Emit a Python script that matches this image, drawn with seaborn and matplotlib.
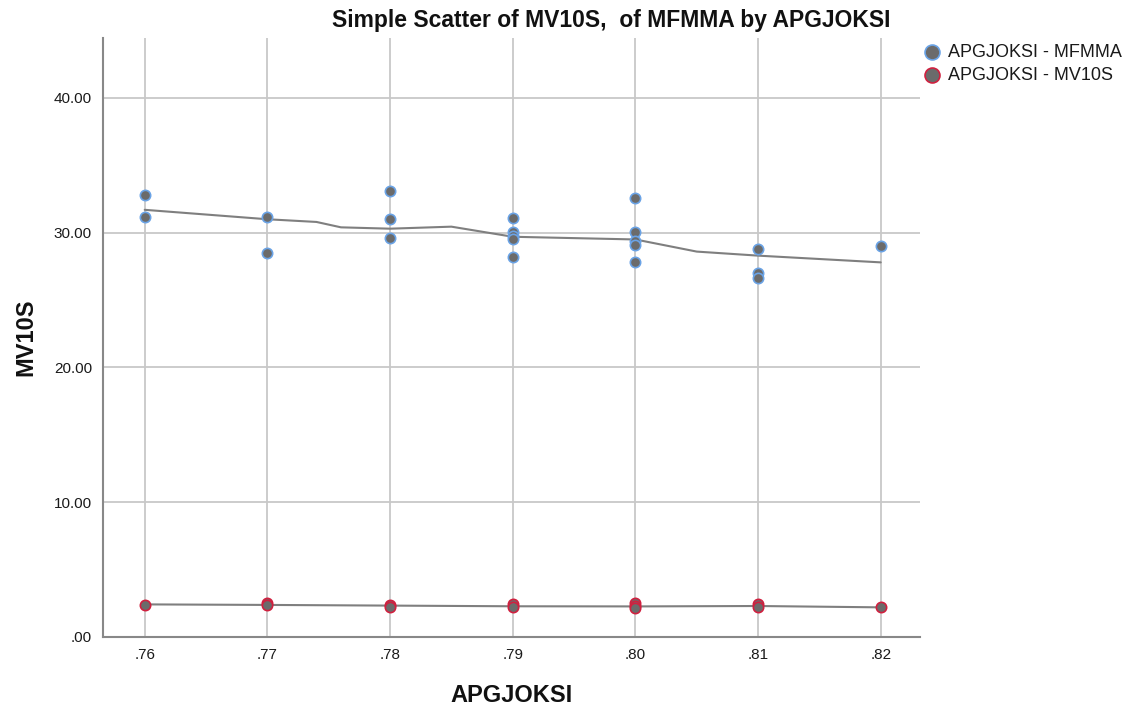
import numpy as np
import pandas as pd
import matplotlib
matplotlib.use("Agg")
import matplotlib.pyplot as plt
import seaborn as sns
from matplotlib.ticker import FuncFormatter

sns.set_theme(style="white")
plt.rcParams['font.family'] = ['Liberation Sans', 'DejaVu Sans']

# Data
mfmma_x = [0.76, 0.76, 0.77, 0.77, 0.78, 0.78, 0.78, 0.79, 0.79, 0.79, 0.79, 0.79,
           0.80, 0.80, 0.80, 0.80, 0.80, 0.81, 0.81, 0.81, 0.82]
mfmma_y = [32.8, 31.17, 31.17, 28.5, 33.1, 31.0, 29.6, 31.07, 30.03, 29.75, 29.5, 28.18,
           32.6, 30.06, 29.4, 29.1, 27.85, 28.77, 27.03, 26.67, 29.02]
mv10s_x = [0.76, 0.77, 0.77, 0.78, 0.78, 0.79, 0.79, 0.80, 0.80, 0.80, 0.81, 0.81, 0.82]
mv10s_y = [2.4, 2.5, 2.4, 2.35, 2.2, 2.45, 2.2, 2.5, 2.3, 2.15, 2.45, 2.25, 2.2]

# Loess fit lines
fit_mfmma_x = [0.76, 0.77, 0.774, 0.776, 0.78, 0.785, 0.79, 0.80, 0.805, 0.81, 0.82]
fit_mfmma_y = [31.7, 31.0, 30.8, 30.4, 30.3, 30.45, 29.7, 29.5, 28.6, 28.3, 27.8]
fit_mv10s_x = [0.76, 0.77, 0.78, 0.79, 0.80, 0.81, 0.82]
fit_mv10s_y = [2.42, 2.38, 2.33, 2.28, 2.27, 2.3, 2.2]

series_names = ["APGJOKSI - MFMMA", "APGJOKSI - MV10S"]
x_ticks = [0.76, 0.77, 0.78, 0.79, 0.80, 0.81, 0.82]
y_ticks = [0, 10, 20, 30, 40]

df = pd.DataFrame({
    "APGJOKSI": mfmma_x + mv10s_x,
    "value": mfmma_y + mv10s_y,
    "series": [series_names[0]] * len(mfmma_x) + [series_names[1]] * len(mv10s_x),
})
fits = pd.DataFrame({
    "APGJOKSI": fit_mfmma_x + fit_mv10s_x,
    "value": fit_mfmma_y + fit_mv10s_y,
    "series": [series_names[0]] * len(fit_mfmma_x) + [series_names[1]] * len(fit_mv10s_x),
})

fig = plt.figure(figsize=(11.42, 7.09), dpi=100)
ax = fig.add_axes([103 / 1142, 1 - 637 / 709, (920 - 103) / 1142, (637 - 38) / 709])

grid_c = "#c8c8c8"
for xt in x_ticks:
    ax.axvline(xt, color=grid_c, lw=1.3, zorder=0)
for yt in y_ticks[1:]:
    ax.axhline(yt, color=grid_c, lw=1.3, zorder=0)

sns.lineplot(data=fits, x="APGJOKSI", y="value", units="series", estimator=None,
             color="#7f7f7f", lw=1.5, ax=ax, legend=False, zorder=2)

edge_colors = {series_names[0]: "#6aa3e6", series_names[1]: "#d0203f"}
for name in series_names:
    sub = df[df["series"] == name]
    sns.scatterplot(data=sub, x="APGJOKSI", y="value", color="#6b6b6b",
                    edgecolor=edge_colors[name], linewidth=1.2, s=55, ax=ax,
                    zorder=3, label=name)

ax.set_xlim(0.7566, 0.8232)
ax.set_ylim(0, 44.45)
ax.set_xticks(x_ticks)
ax.set_yticks(y_ticks)
ax.xaxis.set_major_formatter(FuncFormatter(lambda v, p: ("%.2f" % v).lstrip("0")))
ax.yaxis.set_major_formatter(FuncFormatter(lambda v, p: ".00" if v == 0 else "%.2f" % v))
ax.tick_params(axis="both", length=0, labelsize=11, colors="#1a1a1a", pad=8)

for s in ["top", "right"]:
    ax.spines[s].set_visible(False)
for s in ["left", "bottom"]:
    ax.spines[s].set_color("#888888")
    ax.spines[s].set_linewidth(1.5)

ax.set_xlabel("APGJOKSI", fontsize=17, fontweight="bold", labelpad=16, color="#111111")
ax.set_ylabel("MV10S", fontsize=17, fontweight="bold", labelpad=12, color="#111111")

fig.text(611 / 1142, 1 - 20 / 709, "Simple Scatter of MV10S,  of MFMMA by APGJOKSI",
         ha="center", va="center", fontsize=16.5, fontweight="bold", color="#111111")

leg = ax.legend(loc="upper left", bbox_to_anchor=(916 / 1142, 1 - 37 / 709),
                bbox_transform=fig.transFigure, frameon=False,
                fontsize=13, handlelength=1.0, handletextpad=0.4, borderaxespad=0,
                labelspacing=0.32, markerscale=1.45)
for t in leg.get_texts():
    t.set_color("#1a1a1a")

fig.savefig("out.png", dpi=100)
